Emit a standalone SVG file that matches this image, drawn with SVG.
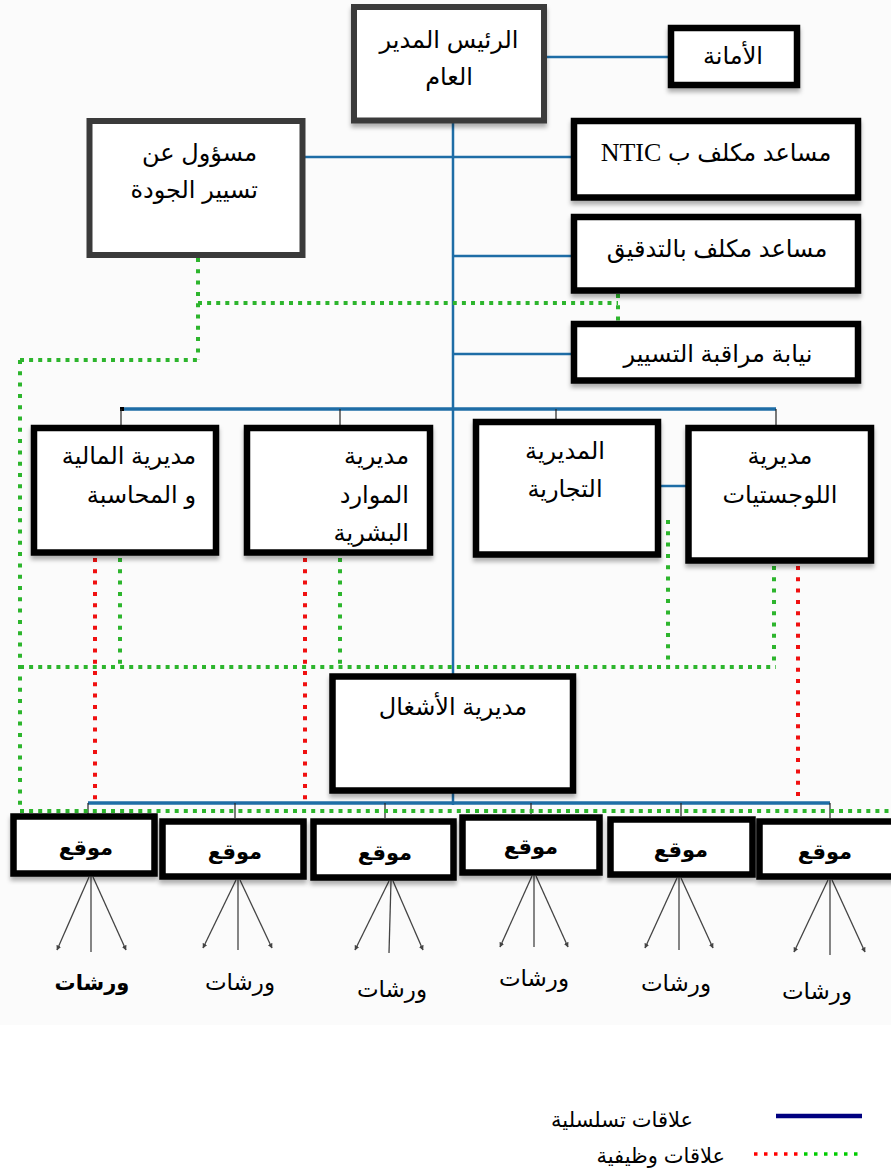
<svg xmlns="http://www.w3.org/2000/svg" width="891" height="1173" viewBox="0 0 891 1173">
<defs>
<filter id="sh" x="-10%" y="-10%" width="120%" height="130%">
<feDropShadow dx="0" dy="4" stdDeviation="2" flood-color="#000" flood-opacity="0.3"/>
</filter>
<marker id="ah" viewBox="0 0 10 10" refX="9" refY="5" markerWidth="5" markerHeight="5" orient="auto" markerUnits="userSpaceOnUse">
<path d="M0,0 L10,5 L0,10 z" fill="#444"/>
</marker>
<style>
.bg{fill:#fbfbfb}
.gbox{fill:#fff;stroke:#3a3a3a;stroke-width:6}
.box{fill:#fff;stroke:#000;stroke-width:6.5;filter:url(#sh)}
.h{stroke:#1e6da6;stroke-width:2.5;fill:none}
.hb{stroke:#1e6da6;stroke-width:3.5;fill:none}
.tk{stroke:#222;stroke-width:1.2;fill:none}
.gv{stroke:#2db52d;stroke-width:4;stroke-dasharray:4 7.3;fill:none}
.gh{stroke:#2db52d;stroke-width:4;stroke-dasharray:4 5.1;fill:none}
.rv{stroke:#f01010;stroke-width:4;stroke-dasharray:4 7.3;fill:none}
.ar{stroke:#444;stroke-width:1.3;fill:none}
.t{font-family:"Liberation Sans","DejaVu Sans",sans-serif;font-size:24px;fill:#000;direction:rtl}
.s{font-family:"Liberation Sans","DejaVu Sans",sans-serif;font-size:21px;font-weight:bold;fill:#000;text-anchor:middle}
.tc{text-anchor:middle}
.tr{text-anchor:start}
.w{font-family:"Liberation Sans","DejaVu Sans",sans-serif;font-size:23px;fill:#000;text-anchor:middle}
.wb{font-size:21px;font-weight:bold}
.lg{font-family:"Liberation Sans","DejaVu Sans",sans-serif;font-size:21px;fill:#000;direction:rtl;text-anchor:start}
</style>
</defs>
<rect x="0" y="0" width="891" height="1025" class="bg"/>
<rect x="0" y="1025" width="891" height="148" fill="#fff"/>

<g id="connectors">
<line class="h" x1="453" y1="120" x2="453" y2="805"/>
<line class="h" x1="544" y1="57" x2="671" y2="57"/>
<line class="h" x1="302" y1="157" x2="574" y2="157"/>
<line class="h" x1="453" y1="256" x2="574" y2="256"/>
<line class="h" x1="453" y1="354" x2="574" y2="354"/>
<line class="hb" x1="122" y1="409" x2="776" y2="409"/>
<rect x="120" y="407" width="4" height="4" fill="#000"/>
<line class="tk" x1="121" y1="409" x2="121" y2="425"/>
<line class="tk" x1="340" y1="409" x2="340" y2="425"/>
<line class="tk" x1="556" y1="409" x2="556" y2="419"/>
<line class="tk" x1="776" y1="409" x2="776" y2="425"/>
<line class="h" x1="658" y1="486" x2="688" y2="486"/>
<line class="hb" x1="88" y1="803" x2="830" y2="803"/>
<line class="tk" x1="88" y1="803" x2="88" y2="814"/>
<line class="tk" x1="235" y1="803" x2="235" y2="818"/>
<line class="tk" x1="385" y1="803" x2="385" y2="818"/>
<line class="tk" x1="531" y1="803" x2="531" y2="814"/>
<line class="tk" x1="681" y1="803" x2="681" y2="816"/>
<line class="tk" x1="830" y1="803" x2="830" y2="818"/>
<line class="gv" x1="198" y1="258" x2="198" y2="360"/>
<line class="gh" x1="198" y1="303" x2="618" y2="303"/>
<line class="gv" x1="618" y1="294" x2="618" y2="322"/>
<line class="gh" x1="20" y1="360" x2="198" y2="360"/>
<line class="gv" x1="20" y1="360" x2="20" y2="811"/>
<line class="gh" x1="20" y1="667" x2="776" y2="667"/>
<line class="gv" x1="120" y1="558" x2="120" y2="667"/>
<line class="gv" x1="340" y1="558" x2="340" y2="667"/>
<line class="gv" x1="668" y1="520" x2="668" y2="667"/>
<line class="gv" x1="774" y1="566" x2="774" y2="667"/>
<line class="gh" x1="20" y1="811" x2="891" y2="811"/>
<line class="rv" x1="95" y1="558" x2="95" y2="803"/>
<line class="rv" x1="305" y1="558" x2="305" y2="803"/>
<line class="rv" x1="798" y1="566" x2="798" y2="803"/>
<g>
<line class="ar" x1="89" y1="877" x2="57" y2="950" marker-end="url(#ah)"/>
<line class="ar" x1="91" y1="877" x2="91" y2="952"/>
<line class="ar" x1="93" y1="877" x2="126" y2="950" marker-end="url(#ah)"/>
<line class="ar" x1="236" y1="880" x2="203" y2="948" marker-end="url(#ah)"/>
<line class="ar" x1="238" y1="880" x2="238" y2="950"/>
<line class="ar" x1="240" y1="880" x2="272" y2="948" marker-end="url(#ah)"/>
<line class="ar" x1="389" y1="881" x2="355" y2="950" marker-end="url(#ah)"/>
<line class="ar" x1="391" y1="881" x2="389" y2="953"/>
<line class="ar" x1="393" y1="881" x2="423" y2="950" marker-end="url(#ah)"/>
<line class="ar" x1="532" y1="876" x2="500" y2="947" marker-end="url(#ah)"/>
<line class="ar" x1="534" y1="876" x2="534" y2="947"/>
<line class="ar" x1="536" y1="876" x2="568" y2="947" marker-end="url(#ah)"/>
<line class="ar" x1="677" y1="878" x2="645" y2="948" marker-end="url(#ah)"/>
<line class="ar" x1="679" y1="878" x2="679" y2="950"/>
<line class="ar" x1="681" y1="878" x2="713" y2="948" marker-end="url(#ah)"/>
<line class="ar" x1="828" y1="880" x2="794" y2="952" marker-end="url(#ah)"/>
<line class="ar" x1="830" y1="880" x2="830" y2="955"/>
<line class="ar" x1="832" y1="880" x2="865" y2="952" marker-end="url(#ah)"/>
</g>
</g>

<g id="n-ceo"><rect class="gbox" x="354" y="7" width="190" height="113.5" filter="url(#sh)"/>
<text class="t tc" x="449" y="48">الرئيس المدير</text>
<text class="t tc" x="449" y="85">العام</text></g>
<g id="n-sec"><rect class="box" x="671" y="28" width="126" height="57"/>
<text class="t tc" x="733" y="64">الأمانة</text></g>
<g id="n-quality"><rect class="gbox" x="89.5" y="121" width="213" height="134"/>
<text class="t tr" x="257" y="161">مسؤول عن</text>
<text class="t tr" x="258" y="198">تسيير الجودة</text></g>
<g id="n-ntic"><rect class="box" x="574" y="121" width="284" height="76.5"/>
<text class="t tc" x="716" y="161">مساعد مكلف ب <tspan font-family="Liberation Serif" font-size="26">NTIC</tspan></text></g>
<g id="n-audit"><rect class="box" x="574" y="217" width="284" height="73.5"/>
<text class="t tc" x="717" y="257">مساعد مكلف بالتدقيق</text></g>
<g id="n-control"><rect class="box" x="574" y="324" width="284" height="56.5"/>
<text class="t tc" x="718" y="362">نيابة مراقبة التسيير</text></g>

<g id="n-finance"><rect class="box" x="34" y="428" width="182" height="124.5"/>
<text class="t tr" x="196" y="464">مديرية المالية</text>
<text class="t tr" x="196" y="503">و المحاسبة</text></g>
<g id="n-hr"><rect class="box" x="247" y="428" width="183" height="124.5"/>
<text class="t tr" x="409" y="464">مديرية</text>
<text class="t tr" x="409" y="503">الموارد</text>
<text class="t tr" x="409" y="541">البشرية</text></g>
<g id="n-commercial"><rect class="box" x="476" y="422" width="182" height="132.5"/>
<text class="t tc" x="565" y="459">المديرية</text>
<text class="t tc" x="565" y="497">التجارية</text></g>
<g id="n-logistics"><rect class="box" x="688.5" y="428" width="182.5" height="132.5"/>
<text class="t tc" x="780" y="464">مديرية</text>
<text class="t tc" x="780" y="503">اللوجستيات</text></g>

<g id="n-works"><rect class="box" x="332.5" y="676.5" width="240.5" height="114"/>
<text class="t tc" x="453" y="715">مديرية الأشغال</text></g>

<g id="n-site1"><rect class="box" x="13.5" y="816.5" width="141" height="57"/><text class="s" x="86" y="855">موقع</text></g>
<g id="n-site2"><rect class="box" x="162.5" y="821.5" width="141" height="55"/><text class="s" x="235" y="859">موقع</text></g>
<g id="n-site3"><rect class="box" x="313.5" y="821.5" width="140" height="56"/><text class="s" x="385" y="860">موقع</text></g>
<g id="n-site4"><rect class="box" x="462.5" y="817.5" width="137" height="55"/><text class="s" x="531" y="854">موقع</text></g>
<g id="n-site5"><rect class="box" x="610.5" y="819.5" width="142" height="55"/><text class="s" x="681" y="857">موقع</text></g>
<g id="n-site6"><rect class="box" x="759.5" y="821.5" width="140" height="55"/><text class="s" x="825" y="859">موقع</text></g>

<g id="n-ws1"><text class="w wb" x="92" y="990">ورشات</text></g>
<g id="n-ws2"><text class="w" x="240" y="990">ورشات</text></g>
<g id="n-ws3"><text class="w" x="392" y="997">ورشات</text></g>
<g id="n-ws4"><text class="w" x="534" y="986">ورشات</text></g>
<g id="n-ws5"><text class="w" x="676" y="991">ورشات</text></g>
<g id="n-ws6"><text class="w" x="817" y="999">ورشات</text></g>

<g id="legend">
<line x1="776" y1="1116" x2="862" y2="1116" stroke="#000080" stroke-width="4.5"/>
<text class="lg" x="693" y="1127">علاقات تسلسلية</text>
<line x1="754" y1="1154" x2="803" y2="1154" stroke="#ff0000" stroke-width="3.5" stroke-dasharray="3.5 6.5"/>
<line x1="804" y1="1154" x2="858" y2="1154" stroke="#00cc00" stroke-width="3.5" stroke-dasharray="3.5 6.5"/>
<text class="lg" x="725" y="1163">علاقات وظيفية</text>
</g>
</svg>
